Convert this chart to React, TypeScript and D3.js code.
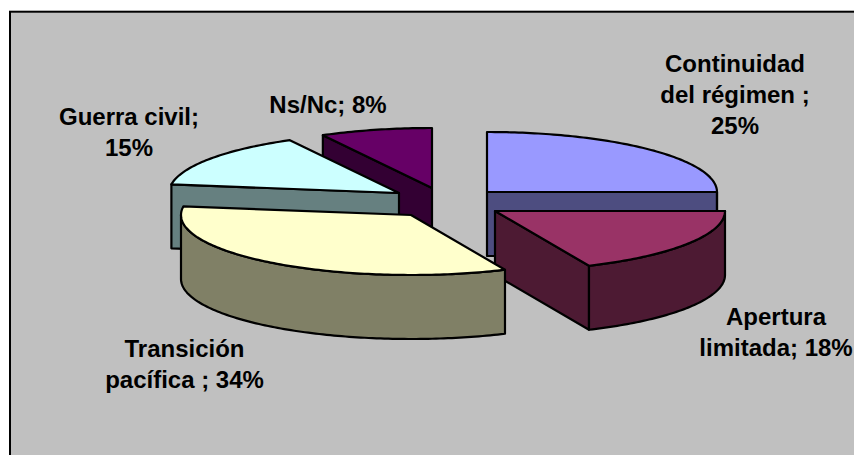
import React from "react";
import * as d3 from "d3";

const categories = ["Continuidad del régimen", "Apertura limitada", "Transición pacífica", "Guerra civil", "Ns/Nc"];
const shares = [25, 18.3, 34, 14.83, 7.87];
const topColors = ["#9999FF", "#993366", "#FFFFCC", "#CCFFFF", "#660066"];
const sideColors = ["#4D4D80", "#4D1A33", "#808066", "#668080", "#330033"];
const labelLines = [
  ["Continuidad", "del régimen ;", "25%"],
  ["Apertura", "limitada; 18%"],
  ["Transición", "pacífica ; 34%"],
  ["Guerra civil;", "15%"],
  ["Ns/Nc; 8%"],
];

// layout (not data)
const apexes: [number, number][] = [[487, 192], [495, 211], [411, 215], [399, 193], [432, 188]];
const drawOrder = [4, 0, 3, 1, 2];
const labelAnchors: [number, number][] = [[735, 72], [776, 325], [184.5, 357], [129, 125], [328, 113]];
const lineGap = 31.2;
const RX = 230;
const RY = 60;
const DEPTH = 64;

const arcs = d3.pie<number>().sort(null).startAngle(0).endAngle(2 * Math.PI)(shares);
const line = d3.line<[number, number]>();

function samples(a0: number, a1: number): number[] {
  const n = Math.max(2, Math.ceil(((a1 - a0) * 180) / Math.PI));
  return d3.range(n + 1).map((i) => a0 + ((a1 - a0) * i) / n);
}
const pt = (c: [number, number], a: number, dy = 0): [number, number] => [
  c[0] + RX * Math.sin(a),
  c[1] - RY * Math.cos(a) + dy,
];
const cutFace = (c: [number, number], a: number) =>
  line([c, pt(c, a), pt(c, a, DEPTH), [c[0], c[1] + DEPTH]])! + "Z";

export default function App() {
  return (
    <svg width={854} height={455} style={{ position: "fixed", left: 0, top: 0, background: "#fff" }}>
      <rect x={10} y={11.7} width={860} height={460} fill="#C0C0C0" stroke="#000" strokeWidth={2} />
      {drawOrder.map((i) => {
        const c = apexes[i];
        const a0 = arcs[i].startAngle;
        const a1 = arcs[i].endAngle;
        const topPath = line([c, ...samples(a0, a1).map((a) => pt(c, a))])! + "Z";
        const w0 = Math.max(a0, Math.PI / 2);
        const w1 = Math.min(a1, (3 * Math.PI) / 2);
        const wall =
          w1 > w0
            ? line([
                ...samples(w0, w1).map((a) => pt(c, a)),
                ...samples(w0, w1).reverse().map((a) => pt(c, a, DEPTH)),
              ])! + "Z"
            : null;
        const endFace = a1 > 0 && a1 < Math.PI;
        const startFace = a0 > Math.PI && a0 < 2 * Math.PI;
        return (
          <g key={categories[i]} stroke="#000" strokeWidth={2.2} strokeLinejoin="round">
            {endFace && <path d={cutFace(c, a1)} fill={sideColors[i]} />}
            {startFace && <path d={cutFace(c, a0)} fill={sideColors[i]} />}
            {wall && <path d={wall} fill={sideColors[i]} />}
            <path d={topPath} fill={topColors[i]} />
          </g>
        );
      })}
      {labelLines.map((lines, i) => (
        <text
          key={categories[i]}
          textAnchor="middle"
          fontFamily="Liberation Sans, Arial, sans-serif"
          fontWeight="bold"
          fontSize={24}
          fill="#000"
        >
          {lines.map((t, k) => (
            <tspan key={k} x={labelAnchors[i][0]} y={labelAnchors[i][1] + k * lineGap}>
              {t}
            </tspan>
          ))}
        </text>
      ))}
    </svg>
  );
}
